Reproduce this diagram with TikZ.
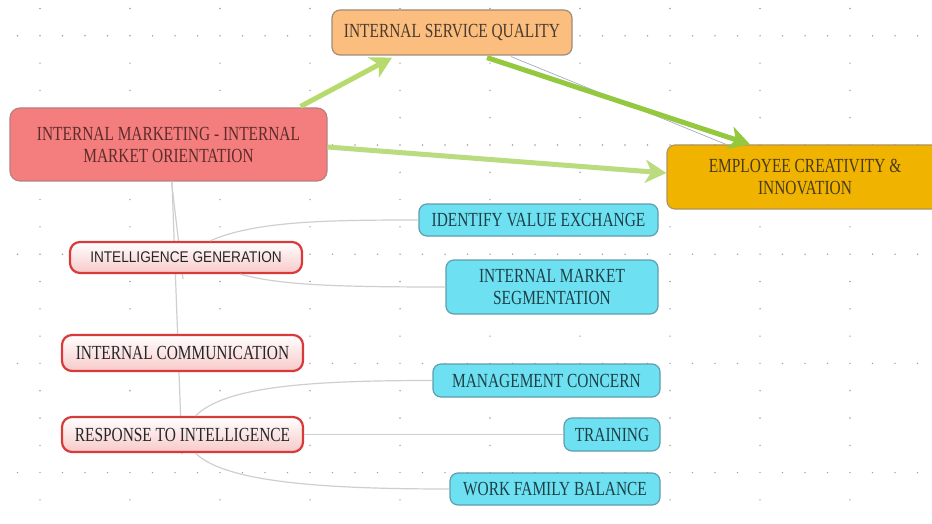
\documentclass[tikz,border=0pt]{standalone}
\usepackage{fontspec}
\setmainfont{Liberation Serif}[FakeStretch=0.77]
\newfontfamily\labelsans{Liberation Sans}[FakeStretch=0.88]
\usetikzlibrary{calc,arrows.meta}

\definecolor{dotgrey}{HTML}{A0A0A0}
\definecolor{linkgrey}{HTML}{CFCFCF}
\definecolor{isqfill}{HTML}{FBBE7E}
\definecolor{isqedge}{HTML}{A08C78}
\definecolor{isqtext}{HTML}{4A3A30}
\definecolor{imfill}{HTML}{F47D7D}
\definecolor{imedge}{HTML}{B88080}
\definecolor{imtext}{HTML}{5E2C2C}
\definecolor{ecifill}{HTML}{EFB300}
\definecolor{eciedge}{HTML}{B0945C}
\definecolor{ecitext}{HTML}{4A3A1C}
\definecolor{cyanfill}{HTML}{6DE1F1}
\definecolor{cyanedge}{HTML}{5E9EAE}
\definecolor{cyantext}{HTML}{1F3F47}
\definecolor{rededge}{HTML}{D83A3A}
\definecolor{redshade}{HTML}{F8C9C9}
\definecolor{lightgreen}{HTML}{B6DB6C}
\definecolor{palegreen}{HTML}{BADB7E}
\definecolor{deepgreen}{HTML}{93C83F}
\definecolor{thinblue}{HTML}{A4ACC4}

\tikzset{
  box/.style={rectangle, rounded corners=8pt, align=center, inner sep=0pt,
    font=\fontsize{20}{22}\selectfont, line width=1.2pt},
  topicbox/.style={box, fill=isqfill, draw=isqedge, text=isqtext},
  mainbox/.style={box, fill=imfill, draw=imedge, text=imtext, rounded corners=10pt},
  outcomebox/.style={box, fill=ecifill, draw=eciedge, text=ecitext},
  facetbox/.style={box, rounded corners=10pt, draw=rededge, line width=2.2pt,
    top color=white, bottom color=redshade, text=black!85},
  itembox/.style={box, fill=cyanfill, draw=cyanedge, text=cyantext},
  link/.style={draw=linkgrey, line width=1.2pt},
  flow/.style={line width=5pt, -{Stealth[length=21pt, width=23pt, inset=6pt]}},
  griddot/.style={fill=dotgrey, draw=none}
}

\begin{document}
\begin{tikzpicture}[x=1pt, y=-1pt]
\useasboundingbox (0,0) rectangle (932,524);
\clip (0,0) rectangle (932,524);
\fill[white] (0,0) rectangle (932,524);

% dotted background grid
\foreach \k in {0,...,19}{
  \pgfmathsetmacro{\yy}{8.5+27.3*\k}
  \pgfmathtruncatemacro{\major}{mod(\k,4)==1 ? 1 : 0}
  \ifnum\major=1
    \foreach \i in {0,...,41}{\fill[griddot] (17.5+22.5*\i,\yy) circle (0.8pt);}
  \else
    \foreach \j in {0,...,10}{\fill[griddot] (40+90*\j,\yy) circle (0.8pt);}
  \fi
}

% nodes
\node[topicbox, minimum width=240pt, minimum height=45pt] (ISQ) at (452,32.5) {INTERNAL SERVICE QUALITY};
\node[mainbox, minimum width=317pt, minimum height=73pt] (IM) at (168.5,144.5) {INTERNAL MARKETING - INTERNAL\\MARKET ORIENTATION};
\node[outcomebox, minimum width=276pt, minimum height=64pt] (ECI) at (805,177) {EMPLOYEE CREATIVITY \&\\INNOVATION};

% links from the central node to its facets
\draw[link] ($(IM.south)+(3,0)$) -- ($(IM.south)+(14.5,97.5)$) coordinate (igtop);
\draw[link] ($(IM.south)+(3.5,0)$) -- ($(IM.south)+(13.5,272.5)$) coordinate (ritop);

\node[facetbox, minimum width=232pt, minimum height=31pt, font=\labelsans\fontsize{15.5}{17}\selectfont] (IG) at (186,257.5) {INTELLIGENCE GENERATION};
\node[facetbox, minimum width=241pt, minimum height=36pt] (IC) at (182.5,353) {INTERNAL COMMUNICATION};
\node[facetbox, minimum width=241pt, minimum height=35pt] (RI) at (182.5,434.5) {RESPONSE TO INTELLIGENCE};

\node[itembox, minimum width=239pt, minimum height=32pt] (IVE) at (538.5,220) {IDENTIFY VALUE EXCHANGE};
\node[itembox, minimum width=212pt, minimum height=54pt] (IMS) at (552,287) {INTERNAL MARKET\\SEGMENTATION};
\node[itembox, minimum width=227pt, minimum height=33pt] (MC) at (546.5,380.5) {MANAGEMENT CONCERN};
\node[itembox, minimum width=96pt, minimum height=33pt] (TR) at (612,434.5) {TRAINING};
\node[itembox, minimum width=210pt, minimum height=32pt] (WFB) at (555,489) {WORK FAMILY BALANCE};

% facet to item links
\draw[link] ($(IG.north)+(24,0)$) .. controls +(45,-20) and +(-90,0) .. (IVE.west);
\draw[link] ($(IG.south)+(54,0)$) .. controls +(40,11) and +(-110,0) .. (IMS.west);
\draw[link] ($(RI.north)+(13,0)$) .. controls +(30,-30) and +(-120,0) .. (MC.west);
\draw[link] (RI.east) -- (TR.west);
\draw[link] ($(RI.south)+(13,0)$) .. controls +(30,30) and +(-120,0) .. (WFB.west);

% green flows
\draw[flow, draw=lightgreen, fill=lightgreen] ($(IM.north east)+(-27,-1)$) -- ($(ISQ.south)+(-60,2)$);
\draw[flow, draw=palegreen, fill=palegreen, line width=5pt] ($(IM.east)+(0,2.5)$) -- ($(ECI.west)+(0,-4)$);
\draw[thinblue, line width=0.7pt] ($(ISQ.south)+(59,1)$) -- ($(ECI.north)+(-79,0)$);
\draw[flow, draw=deepgreen, fill=deepgreen] ($(ISQ.south)+(35,2)$) -- ($(ECI.north)+(-55,0)$);
\end{tikzpicture}
\end{document}
